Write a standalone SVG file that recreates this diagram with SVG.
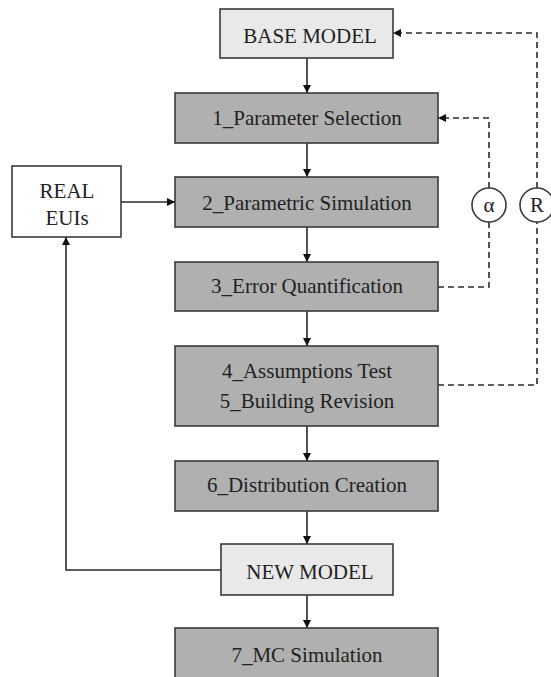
<svg xmlns="http://www.w3.org/2000/svg" width="551" height="677" viewBox="0 0 551 677">
<style>
.dark{fill:#b0b0b0;stroke:#3a3a3a;stroke-width:1.6}
.light{fill:#e9e9e9;stroke:#3a3a3a;stroke-width:1.6}
.white{fill:#ffffff;stroke:#3a3a3a;stroke-width:1.6}
.t{font-family:'Times New Roman','Liberation Serif',Tinos,'DejaVu Serif';font-size:21px;fill:#222;text-anchor:middle}
.solid{fill:none;stroke:#2a2a2a;stroke-width:1.6;marker-end:url(#ah)}
.dash{fill:none;stroke:#2a2a2a;stroke-width:1.6;stroke-dasharray:6 4}
.dasharr{fill:none;stroke:#2a2a2a;stroke-width:1.6;stroke-dasharray:6 4;marker-end:url(#ah)}
</style>
<defs>
<marker id="ah" viewBox="0 0 10 10" refX="10" refY="5" markerWidth="8" markerHeight="8" markerUnits="userSpaceOnUse" orient="auto">
<path d="M0,0 L10,5 L0,10 Z" fill="#111"/>
</marker>
</defs>
<rect width="551" height="677" fill="#ffffff"/>
<g id="connectors">
<path class="solid" d="M307,58 V93"/>
<path class="solid" d="M307,143 V177"/>
<path class="solid" d="M307,227 V262"/>
<path class="solid" d="M307,311 V346"/>
<path class="solid" d="M307,426 V461"/>
<path class="solid" d="M307,511 V544"/>
<path class="solid" d="M307,595 V628"/>
<path class="solid" d="M121,202 H175"/>
<path class="solid" d="M221,570 H66 V237"/>
<path class="dash" d="M438,287 H489 V222"/>
<path class="dasharr" d="M489,188 V118 H438"/>
<path class="dash" d="M438,385 H537 V222"/>
<path class="dasharr" d="M537,188 V33 H393"/>
</g>
<g id="base-model"><rect class="light" x="220" y="9" width="173" height="49"/><text class="t" x="310" y="43">BASE MODEL</text></g>
<g id="step1"><rect class="dark" x="175" y="93" width="263" height="50"/><text class="t" x="307" y="125">1_Parameter Selection</text></g>
<g id="step2"><rect class="dark" x="175" y="177" width="263" height="50"/><text class="t" x="307" y="210">2_Parametric Simulation</text></g>
<g id="step3"><rect class="dark" x="175" y="262" width="263" height="49"/><text class="t" x="307" y="293">3_Error Quantification</text></g>
<g id="step45"><rect class="dark" x="175" y="346" width="263" height="80"/><text class="t" x="307" y="378">4_Assumptions Test</text><text class="t" x="307" y="408">5_Building Revision</text></g>
<g id="step6"><rect class="dark" x="175" y="461" width="263" height="50"/><text class="t" x="307" y="492">6_Distribution Creation</text></g>
<g id="new-model"><rect class="light" x="221" y="544" width="172" height="51"/><text class="t" x="310" y="579">NEW MODEL</text></g>
<g id="step7"><rect class="dark" x="175" y="628" width="263" height="60"/><text class="t" x="307" y="662">7_MC Simulation</text></g>
<g id="real-euis"><rect class="white" x="12" y="166" width="109" height="71"/><text class="t" x="67" y="198">REAL</text><text class="t" x="67" y="225">EUIs</text></g>
<g id="alpha"><circle class="white" cx="489" cy="205" r="17"/><text class="t" x="489" y="212">α</text></g>
<g id="r"><circle class="white" cx="537" cy="205" r="17"/><text class="t" x="537" y="212">R</text></g>
</svg>
